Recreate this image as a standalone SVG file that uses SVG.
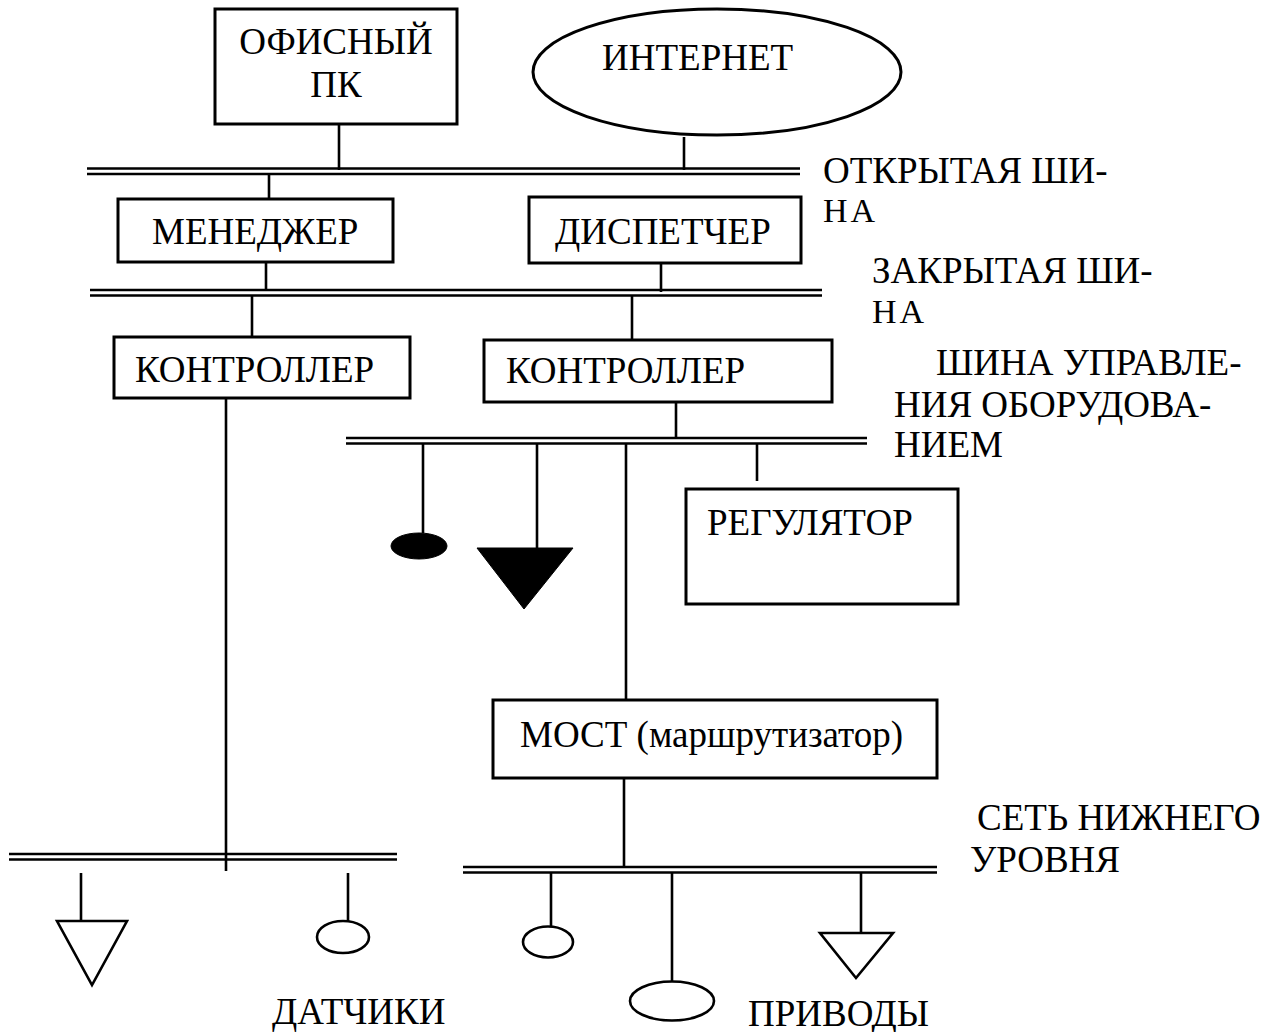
<svg xmlns="http://www.w3.org/2000/svg" width="1272" height="1032" viewBox="0 0 1272 1032">
  <style>
    .box { fill: #fff; stroke: #000; stroke-width: 3; }
    .ln { stroke: #000; stroke-width: 2.6; fill: none; }
    .bus { stroke: #000; stroke-width: 2.6; fill: none; }
    .t { font-family: "Liberation Serif", "Times New Roman", serif; font-size: 37px; fill: #000; }
    .t2 { font-family: "Liberation Serif", "Times New Roman", serif; font-size: 34px; letter-spacing: 3px; fill: #000; }
    .open { fill: #fff; stroke: #000; stroke-width: 2.6; }
    .solid { fill: #000; stroke: #000; stroke-width: 1; }
  </style>

  <!-- buses and connecting lines -->
  <g id="connectors">
    <!-- open bus -->
    <path class="bus" d="M87 168.5H800M87 174H800"/>
    <!-- closed bus -->
    <path class="bus" d="M90 290H822M90 295.5H822"/>
    <!-- equipment control bus -->
    <path class="bus" d="M346 438H867M346 443.5H867"/>
    <!-- lower-level network, left part -->
    <path class="bus" d="M9 854H397M9 859.5H397"/>
    <!-- lower-level network, right part -->
    <path class="bus" d="M463 867H937M463 872.5H937"/>

    <path class="ln" d="M339 124V170"/>
    <path class="ln" d="M684 137V170"/>
    <path class="ln" d="M269 174V199"/>
    <path class="ln" d="M266 262V290"/>
    <path class="ln" d="M661 263V292"/>
    <path class="ln" d="M252 296V337"/>
    <path class="ln" d="M632 296V340"/>
    <path class="ln" d="M676 402V438"/>
    <path class="ln" d="M226 398V871"/>
    <path class="ln" d="M423 444V533"/>
    <path class="ln" d="M537 444V548"/>
    <path class="ln" d="M626 444V710"/>
    <path class="ln" d="M757 444V481"/>
    <path class="ln" d="M624 768V868"/>
    <path class="ln" d="M81 873V921"/>
    <path class="ln" d="M348 873V922"/>
    <path class="ln" d="M551 872V927"/>
    <path class="ln" d="M672 872V982"/>
    <path class="ln" d="M861 872V933"/>
  </g>

  <g id="office-pc">
    <rect class="box" x="215" y="9" width="242" height="115"/>
    <text class="t" x="336" y="54" text-anchor="middle">ОФИСНЫЙ</text>
    <text class="t" x="336" y="97" text-anchor="middle">ПК</text>
  </g>

  <g id="internet">
    <ellipse class="box" cx="717" cy="72" rx="184" ry="63"/>
    <text class="t" x="602" y="70">ИНТЕРНЕТ</text>
  </g>

  <g id="manager">
    <rect class="box" x="118" y="199" width="275" height="63"/>
    <text class="t" x="152" y="244">МЕНЕДЖЕР</text>
  </g>

  <g id="dispatcher">
    <rect class="box" x="529" y="197" width="272" height="66"/>
    <text class="t" x="555" y="244">ДИСПЕТЧЕР</text>
  </g>

  <g id="controller-1">
    <rect class="box" x="114" y="337" width="296" height="61"/>
    <text class="t" x="135" y="382">КОНТРОЛЛЕР</text>
  </g>

  <g id="controller-2">
    <rect class="box" x="484" y="340" width="348" height="62"/>
    <text class="t" x="506" y="383">КОНТРОЛЛЕР</text>
  </g>

  <g id="regulator">
    <rect class="box" x="686" y="489" width="272" height="115"/>
    <text class="t" x="707" y="535">РЕГУЛЯТОР</text>
  </g>

  <g id="bridge">
    <rect class="box" x="493" y="700" width="444" height="78"/>
    <text class="t" x="520" y="747">МОСТ (маршрутизатор)</text>
  </g>

  <!-- devices on the equipment control bus -->
  <g id="device-filled-oval">
    <ellipse class="solid" cx="419" cy="546" rx="28" ry="13"/>
  </g>
  <g id="device-filled-triangle">
    <polygon class="solid" points="477,548 573,548 524,609"/>
  </g>

  <!-- devices on the lower-level network -->
  <g id="sensor-triangle">
    <polygon class="open" points="57,921 127,921 92,985"/>
  </g>
  <g id="sensor-oval">
    <ellipse class="open" cx="343" cy="937" rx="26" ry="16"/>
  </g>
  <g id="drive-oval-small">
    <ellipse class="open" cx="548" cy="942" rx="25" ry="15.5"/>
  </g>
  <g id="drive-oval-large">
    <ellipse class="open" cx="672" cy="1001" rx="42" ry="19.5"/>
  </g>
  <g id="drive-triangle">
    <polygon class="open" points="820,933 893,933 856,978"/>
  </g>

  <!-- bus labels -->
  <g id="labels">
    <text class="t" x="823" y="183">ОТКРЫТАЯ ШИ-</text>
    <text class="t2" x="823" y="222">НА</text>
    <text class="t" x="872" y="283">ЗАКРЫТАЯ ШИ-</text>
    <text class="t2" x="872" y="323">НА</text>
    <text class="t" x="936" y="375">ШИНА УПРАВЛЕ-</text>
    <text class="t" x="894" y="417">НИЯ ОБОРУДОВА-</text>
    <text class="t" x="894" y="457">НИЕМ</text>
    <text class="t" x="977" y="830">СЕТЬ НИЖНЕГО</text>
    <text class="t" x="970" y="872">УРОВНЯ</text>
    <text class="t" x="272" y="1024">ДАТЧИКИ</text>
    <text class="t" x="748" y="1026">ПРИВОДЫ</text>
  </g>
</svg>
